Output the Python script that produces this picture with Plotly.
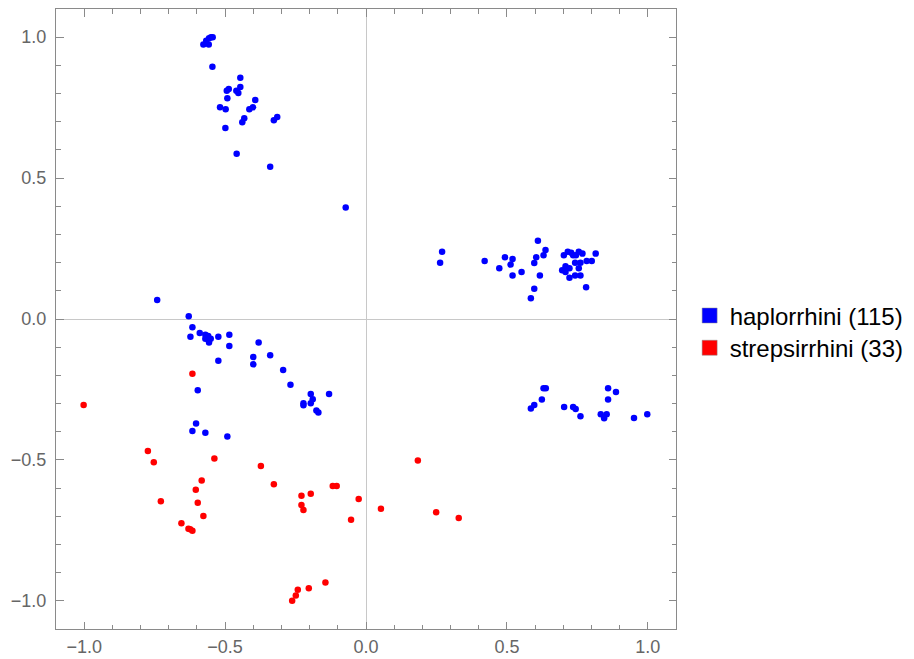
import plotly.graph_objects as go

# haplorrhini (blue) points
hap_x = [-0.550, -0.577, -0.558, -0.567, -0.544, -0.557, -0.545, -0.446, -0.487, -0.494,
         -0.446, -0.460, -0.453, -0.492, -0.393, -0.518, -0.498, -0.401, -0.414, -0.432,
         -0.439, -0.315, -0.327, -0.499, -0.459, -0.340, -0.072,
         0.270, 0.263, 0.421, 0.493, 0.520, 0.513, 0.473, 0.520, 0.552, 0.610,
         0.637, 0.604, 0.630, 0.597, 0.617, 0.597, 0.585, 0.702, 0.716, 0.728,
         0.745, 0.755, 0.768, 0.815, 0.742, 0.761, 0.783, 0.801, 0.708, 0.696,
         0.708, 0.755, 0.722, 0.742, 0.761, 0.781, 0.735, 0.722,
         0.630, 0.638, 0.624, 0.597, 0.585, 0.703, 0.735, 0.744, 0.761, 0.859,
         0.887, 0.859, 0.833, 0.854, 0.845, 0.951, 0.998,
         -0.741, -0.629, -0.616, -0.623, -0.590, -0.570, -0.570, -0.551, -0.557, -0.524,
         -0.485, -0.485, -0.524, -0.381, -0.400, -0.400, -0.340, -0.294, -0.268, -0.196,
         -0.189, -0.196, -0.222, -0.222, -0.176, -0.169, -0.131, -0.597, -0.603, -0.616,
         -0.570, -0.492, -0.560]
hap_y = [1.000, 0.974, 0.974, 0.987, 1.000, 0.996, 0.895, 0.856, 0.816, 0.810,
         0.823, 0.810, 0.802, 0.783, 0.777, 0.751, 0.744, 0.751, 0.744, 0.712,
         0.698, 0.717, 0.705, 0.678, 0.586, 0.540, 0.396,
         0.239, 0.200, 0.206, 0.219, 0.213, 0.193, 0.180, 0.154, 0.167, 0.278,
         0.245, 0.219, 0.226, 0.199, 0.154, 0.107, 0.074, 0.226, 0.239, 0.235,
         0.226, 0.239, 0.232, 0.232, 0.200, 0.200, 0.206, 0.206, 0.187, 0.173,
         0.167, 0.180, 0.146, 0.154, 0.154, 0.113, 0.226, 0.180,
         -0.246, -0.246, -0.286, -0.305, -0.318, -0.312, -0.312, -0.319, -0.345, -0.246,
         -0.259, -0.286, -0.338, -0.338, -0.352, -0.351, -0.338,
         0.067, 0.010, -0.029, -0.063, -0.050, -0.056, -0.070, -0.070, -0.083, -0.063,
         -0.056, -0.096, -0.148, -0.083, -0.135, -0.161, -0.129, -0.181, -0.233, -0.266,
         -0.285, -0.299, -0.299, -0.306, -0.325, -0.332, -0.266, -0.253, -0.371, -0.397,
         -0.404, -0.417, -0.060]

# strepsirrhini (red) points
str_x = [-0.616, -1.002, -0.774, -0.753, -0.538, -0.373, -0.583, -0.604, -0.728, -0.597,
         -0.577, -0.655, -0.630, -0.616, -0.624,
         -0.327, -0.229, -0.196, -0.229, -0.222, -0.118, -0.104, -0.026, -0.053, 0.184,
         0.053, 0.249, 0.329, -0.144, -0.203, -0.242, -0.249, -0.262]
str_y = [-0.194, -0.305, -0.468, -0.508, -0.495, -0.522, -0.573, -0.606, -0.647, -0.652,
         -0.699, -0.725, -0.744, -0.751, -0.746,
         -0.586, -0.627, -0.620, -0.660, -0.678, -0.593, -0.593, -0.639, -0.712, -0.502,
         -0.673, -0.686, -0.706, -0.935, -0.955, -0.961, -0.981, -1.000]

names = ["haplorrhini (115)", "strepsirrhini (33)"]
colors = ["#0000FF", "#FF0000"]
tick_vals = [-1.0, -0.5, 0.0, 0.5, 1.0]
tick_text = ["\u22121.0", "\u22120.5", "0.0", "0.5", "1.0"]

fig = go.Figure()
for xs, ys, c in [(hap_x, hap_y, colors[0]), (str_x, str_y, colors[1])]:
    fig.add_trace(go.Scatter(x=xs, y=ys, mode="markers", showlegend=False,
                             marker=dict(color=c, size=6.5, line=dict(width=0))))
for n, c, lg in zip(names, colors, ["legend", "legend2"]):
    fig.add_trace(go.Scatter(x=[None], y=[None], mode="markers", name=n, legend=lg,
                             marker=dict(color=c, size=15, symbol="square",
                                         line=dict(width=0.5, color="#888"))))

axis_common = dict(
    range=[-1.1, 1.1], showgrid=False, zeroline=True, zerolinecolor="#c8c8c8",
    zerolinewidth=1, showline=True, linecolor="#8a8a8a", linewidth=1, mirror="ticks",
    ticks="inside", ticklen=7.5, tickcolor="#8a8a8a", tickwidth=1,
    tickvals=tick_vals, ticktext=tick_text, automargin=False,
    tickfont=dict(family="Liberation Sans, Arial, sans-serif", size=18, color="#666666"),
    minor=dict(ticks="inside", ticklen=4.5, tickcolor="#8a8a8a", tickwidth=1, dtick=0.1,
               tick0=0, showgrid=False),
)
fig.update_xaxes(**axis_common, ticklabelstandoff=1)
fig.update_yaxes(**axis_common, ticklabelstandoff=5)

legend_font = dict(family="Liberation Sans, Arial, sans-serif", size=24, color="#000000")
fig.update_layout(
    width=914, height=659,
    margin=dict(l=48, r=246, t=1, b=38, autoexpand=False),
    paper_bgcolor="white", plot_bgcolor="white",
    legend=dict(x=1.022, y=0.505, xanchor="left", yanchor="middle",
                font=legend_font, bgcolor="rgba(0,0,0,0)"),
    legend2=dict(x=1.022, y=0.453, xanchor="left", yanchor="middle",
                 font=legend_font, bgcolor="rgba(0,0,0,0)"),
)

fig.write_html("out.html")
